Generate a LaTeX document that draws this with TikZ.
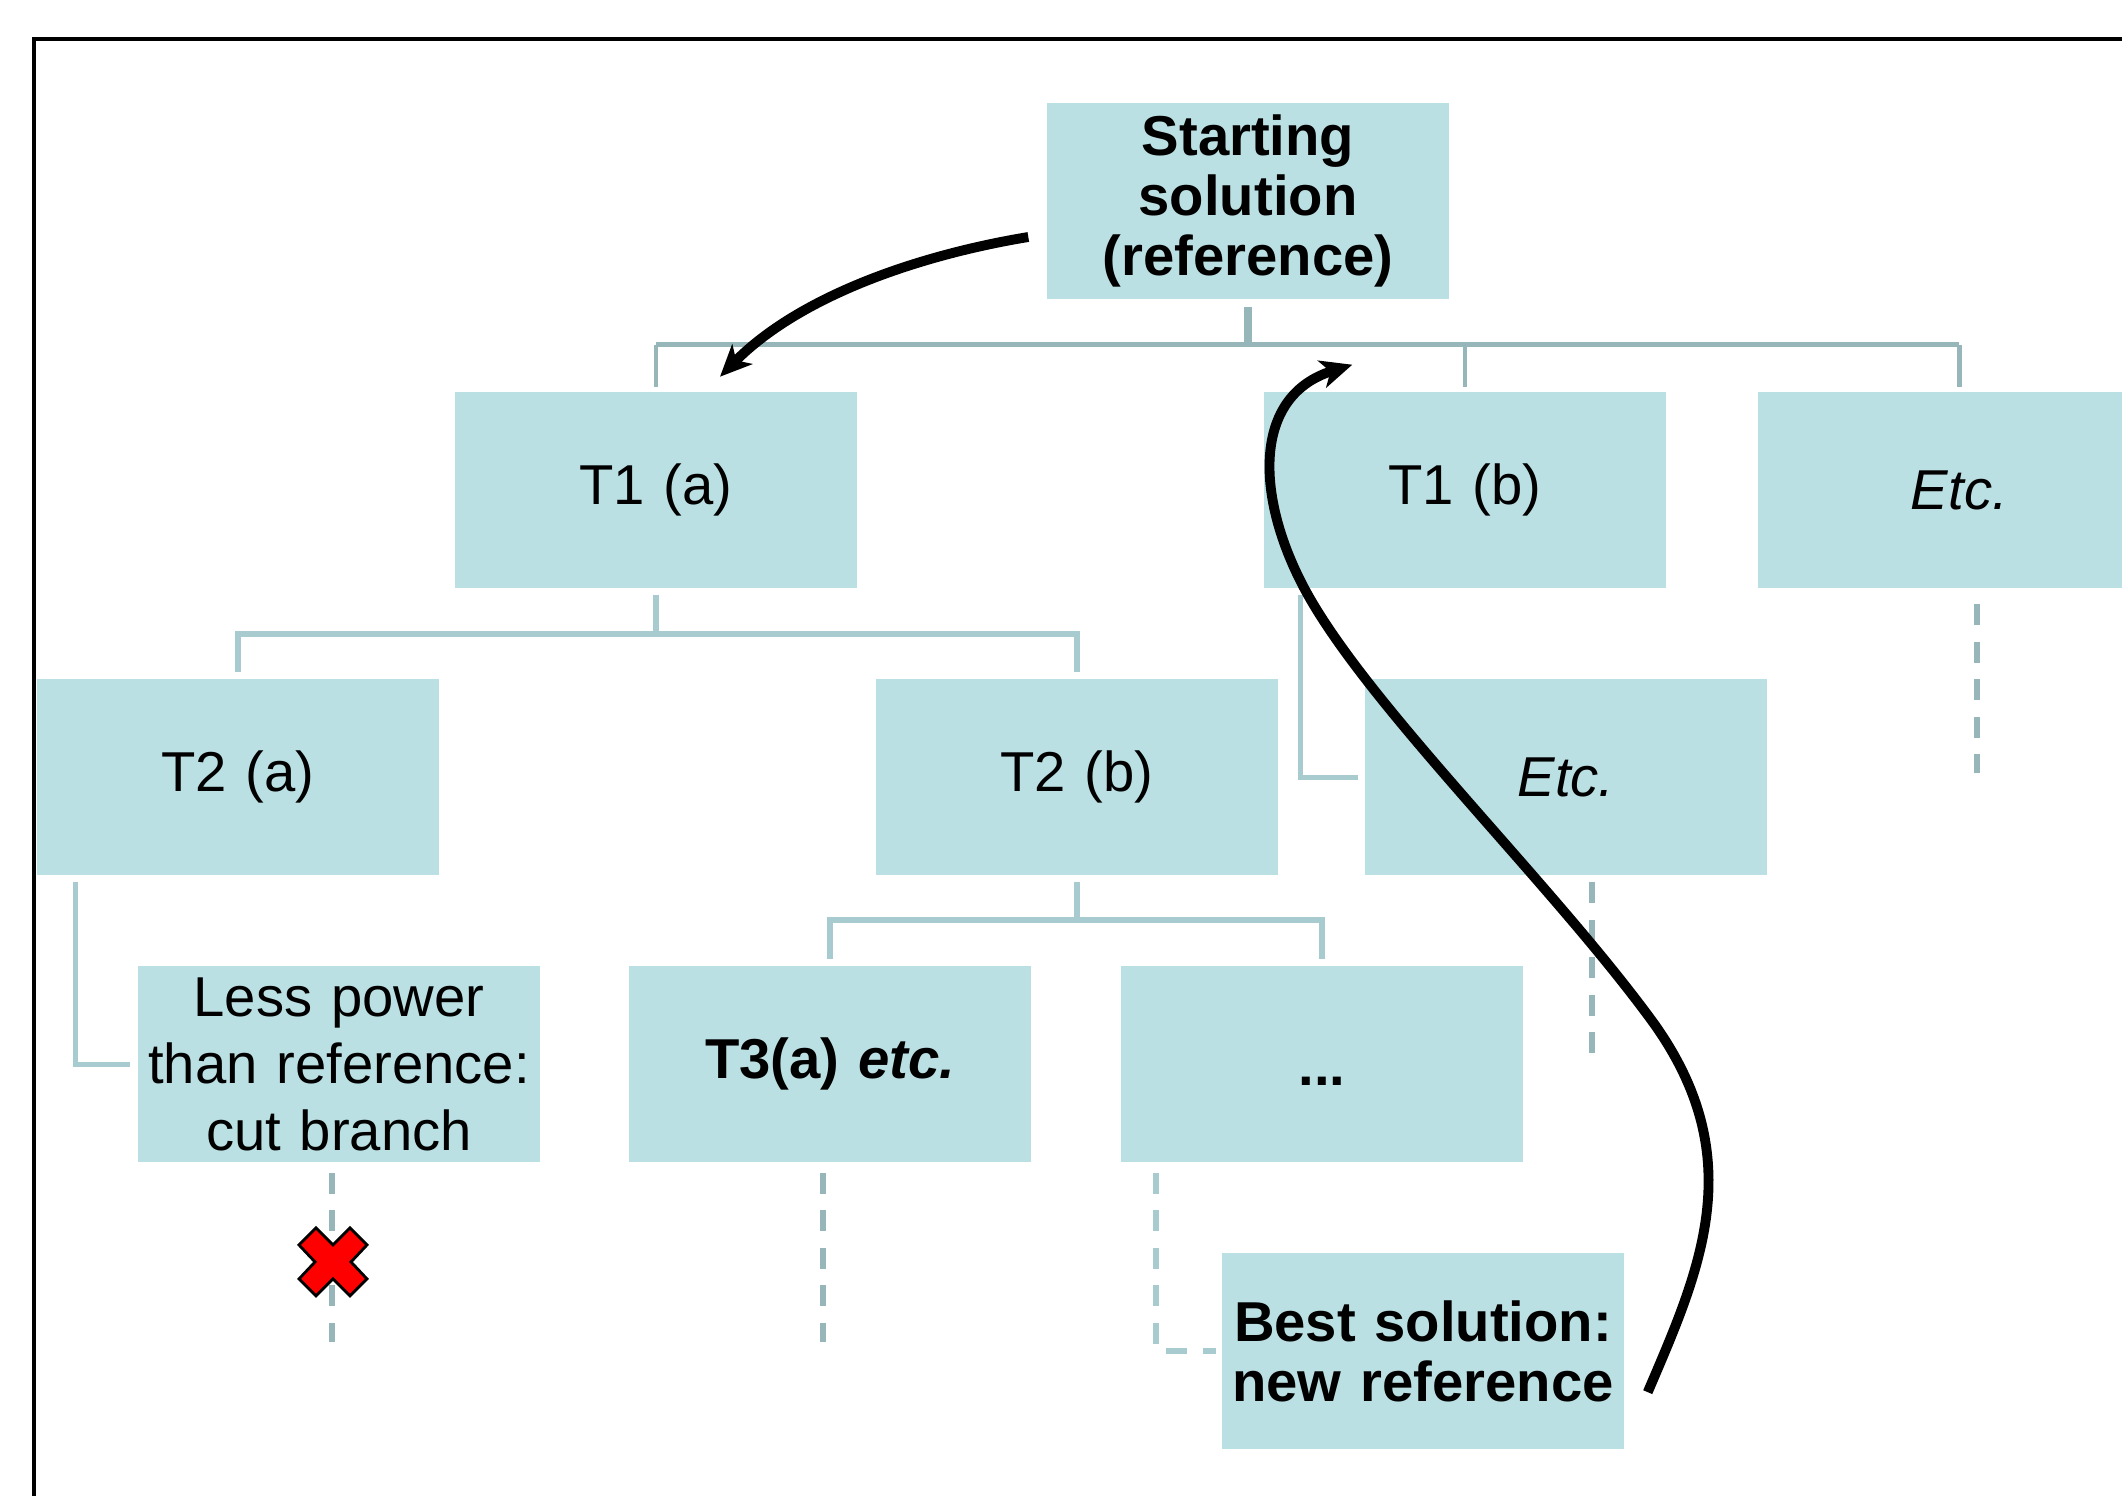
\documentclass[tikz,border=0pt]{standalone}
\usepackage{fontspec}
\setmainfont{Liberation Sans}
\usepackage{tikz}
\usetikzlibrary{arrows.meta,positioning,calc}

\definecolor{boxfill}{RGB}{187,224,227}
\definecolor{barline}{RGB}{151,182,186}
\definecolor{linkline}{RGB}{168,203,207}

\begin{document}
\begin{tikzpicture}[
  node distance=0.895cm,
  box/.style={rectangle, fill=boxfill, minimum width=4.02cm, minimum height=1.96cm,
              text width=3.95cm, align=center, inner sep=0pt, font=\fontsize{16}{19}\selectfont},
  boldbox/.style={box, font=\fontsize{16}{17}\selectfont\bfseries},
  link/.style={linkline, line width=1.5pt},
  bar/.style={barline, line width=1.5pt},
  stem/.style={barline, line width=2.4pt},
  more/.style={barline, line width=1.7pt, dash pattern=on 0.21cm off 0.165cm},
  arr/.style={-{Stealth[length=9pt,width=8pt,inset=2.5pt]}, line width=2.8pt}
]
\useasboundingbox (0,0) rectangle (21.22,-14.95);
% outer frame, runs off the page on the right and bottom
\draw[line width=1pt] (0.34,-16) rectangle (23,-0.39);

% tree of solutions
\node[boldbox] (start) at (12.48,-2.01) {Starting\\solution\\(reference)};
\node[box, below=0.92cm of start, xshift=-5.92cm] (t1a) {T1 (a)};
\node[box, below=0.92cm of start, xshift=2.17cm] (t1b) {T1 (b)};
\node[box, right=0.91cm of t1b] (etc1) {\textit{Etc.}};
\node[box, below=of t1a, xshift=-4.18cm] (t2a) {T2 (a)};
\node[box, below=of t1a, xshift=4.21cm] (t2b) {T2 (b)};
\node[box, below=of t1b, xshift=1.01cm] (etc2) {\textit{Etc.}};
\node[box, below=of t2a, xshift=1.01cm] (cut) {Less power\\than reference:\\cut branch};
\node[boldbox, below=of t2b, xshift=-2.47cm] (t3a) {T3(a) \textit{etc.}};
\node[boldbox, below=of t2b, xshift=2.45cm] (dots) {\raisebox{-6pt}[0pt][0pt]{...}};
\node[boldbox, below=of dots, xshift=1.01cm] (best) {Best solution:\\new reference};

% level 1
\draw[stem] ($(start.south)+(0,-0.07)$) -- ($(start.south |- t1a.north)+(0,0.47)$);
\draw[bar] ($(t1a.north)+(0,0.47)$) -- ($(etc1.north)+(0,0.47)$);
\foreach \n in {t1a,t1b,etc1}
  \draw[bar, line width=1.2pt] ($(\n.north)+(0,0.47)$) -- ($(\n.north)+(0,0.05)$);

% level 2
\draw[link] ($(t1a.south)+(0,-0.06)$) -- ($(t1a.south)+(0,-0.45)$) -| ($(t2a.north)+(0,0.07)$);
\draw[link] ($(t1a.south)+(0,-0.45)$) -| ($(t2b.north)+(0,0.07)$);
\draw[link] ($(t1b.south west)+(0.37,-0.06)$) |- ($(etc2.west)+(-0.06,0)$);
\draw[more] ($(etc1.south)+(0.18,-0.15)$) -- ++(0,-1.69);

% level 3
\draw[link] ($(t2a.south west)+(0.39,-0.06)$) |- ($(cut.west)+(-0.07,0)$);
\draw[link] ($(t2b.south)+(0,-0.06)$) -- ($(t2b.south)+(0,-0.44)$) -| ($(t3a.north)+(0,0.07)$);
\draw[link] ($(t2b.south)+(0,-0.44)$) -| ($(dots.north)+(0,0.07)$);
\draw[more] ($(etc2.south)+(0.26,-0.06)$) -- ++(0,-1.71);

% level 4
\draw[more] ($(cut.south)+(-0.07,-0.10)$) -- ++(0,-1.69);
\draw[more] ($(t3a.south)+(-0.07,-0.10)$) -- ++(0,-1.69);
\draw[more, linkline] ($(dots.south west)+(0.36,-0.10)$) |- ($(best.west)+(-0.05,0)$);

% cut mark on the pruned branch
\draw[fill=red, line width=0.8pt, shift={($(cut.south)+(-0.06,-0.99)$)}]
  (0,0.17) -- (0.17,0.34) -- (0.34,0.17) -- (0.18,0) -- (0.34,-0.17) -- (0.17,-0.34)
  -- (0,-0.17) -- (-0.17,-0.34) -- (-0.34,-0.17) -- (-0.18,0) -- (-0.34,0.17)
  -- (-0.17,0.34) -- cycle;

% search arrows
\coordinate (go) at ($(start.west)+(-0.18,-0.36)$);
\coordinate (first) at ($(t1a.north)+(0.64,0.15)$);
\draw[arr] (go) .. controls +(-1.09,-0.18) and +(0.8,0.81) .. (first);
\coordinate (found) at ($(best.east)+(0.23,-0.41)$);
\coordinate (back) at ($(t1b.north west)+(0.89,0.27)$);
\draw[arr] (found) .. controls (17.0,-12.7) and (17.5,-11.6) .. (16.55,-10.25)
  .. controls (15.5,-8.8) and (13.58,-6.97) .. (13.0,-5.8)
  .. controls (12.55,-4.9) and (12.55,-3.95) .. (back);
\end{tikzpicture}
\end{document}
